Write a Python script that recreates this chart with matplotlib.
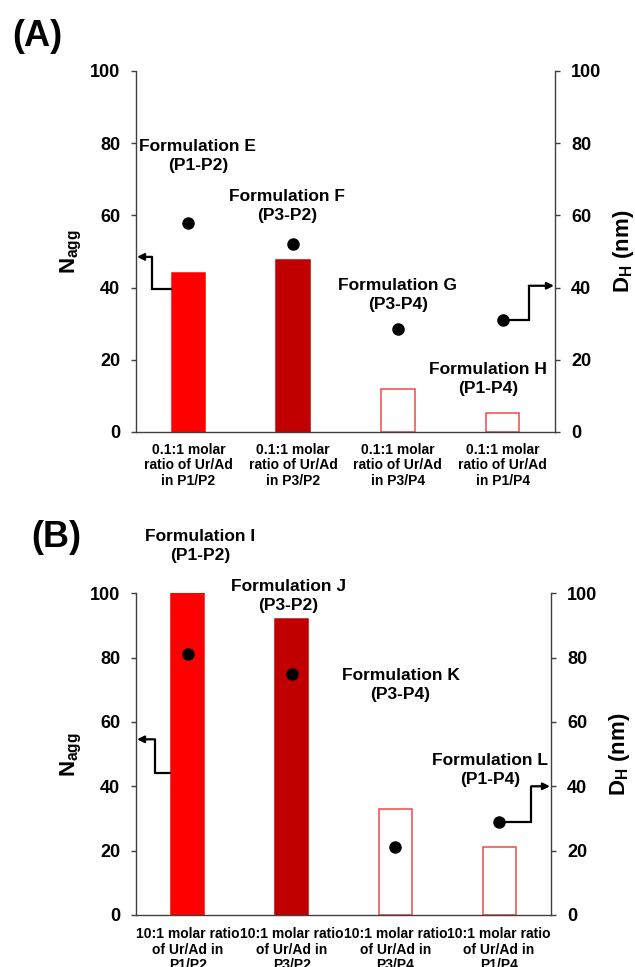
import matplotlib
matplotlib.use("Agg")  # headless backend
import matplotlib.pyplot as plt
import numpy as np

plt.rcParams['font.family'] = ['Liberation Sans', 'DejaVu Sans']
plt.rcParams['font.weight'] = 'bold'
plt.rcParams['axes.labelweight'] = 'bold'
plt.rcParams['mathtext.fontset'] = 'custom'
plt.rcParams['mathtext.rm'] = 'Liberation Sans:bold'
plt.rcParams['mathtext.bf'] = 'Liberation Sans:bold'
plt.rcParams['mathtext.it'] = 'Liberation Sans:bold'

# --- Panel A data ---
cats_a = ["0.1:1 molar\nratio of Ur/Ad\nin P1/P2", "0.1:1 molar\nratio of Ur/Ad\nin P3/P2",
          "0.1:1 molar\nratio of Ur/Ad\nin P3/P4", "0.1:1 molar\nratio of Ur/Ad\nin P1/P4"]
nagg_a = [44, 47.5, 12, 5.2]
dh_a = [58, 52, 28.5, 31]
names_a = ["Formulation E\n(P1-P2)", "Formulation F\n(P3-P2)",
           "Formulation G\n(P3-P4)", "Formulation H\n(P1-P4)"]

# --- Panel B data ---
cats_b = ["10:1 molar ratio\nof Ur/Ad in\nP1/P2", "10:1 molar ratio\nof Ur/Ad in\nP3/P2",
          "10:1 molar ratio\nof Ur/Ad in\nP3/P4", "10:1 molar ratio\nof Ur/Ad in\nP1/P4"]
nagg_b = [100, 92, 33, 21]
dh_b = [81, 75, 21, 29]
names_b = ["Formulation I\n(P1-P2)", "Formulation J\n(P3-P2)",
           "Formulation K\n(P3-P4)", "Formulation L\n(P1-P4)"]

yticks = [0, 20, 40, 60, 80, 100]
bar_faces = ['#FF0000', '#C00000', 'white', 'white']
bar_edges = ['#FF0000', '#C00000', '#F04848', '#F04848']
SPINE = '#404040'


def draw_panel(fig, rect, cats, nagg, dh, names, name_pos, left_arrow, right_arrow, xpad):
    ax = fig.add_axes(rect)
    x = np.arange(len(cats))
    ax.bar(x, nagg, width=0.32, color=bar_faces, edgecolor=bar_edges, linewidth=1.1, zorder=2)
    ax.set_xlim(-0.5, len(cats) - 0.5)
    ax.set_ylim(0, 100)
    ax.set_yticks(yticks)
    ax.set_xticks(x)
    ax.set_xticklabels(cats, fontsize=10, linespacing=1.12)
    ax.tick_params(axis='x', length=0, pad=xpad)
    ax.tick_params(axis='y', direction='out', length=3.5, width=1, color=SPINE,
                   labelsize=13, pad=8)
    ax.set_ylabel(r'N$_{\mathrm{agg}}$', fontsize=16, labelpad=4)
    for s in ['top', 'right']:
        ax.spines[s].set_visible(False)
    for s in ['left', 'bottom']:
        ax.spines[s].set_color(SPINE)
        ax.spines[s].set_linewidth(1)

    ax2 = ax.twinx()
    ax2.set_ylim(0, 100)
    ax2.set_yticks(yticks)
    ax2.tick_params(axis='y', direction='out', length=3.5, width=1, color=SPINE,
                    labelsize=13, pad=8)
    ax2.set_ylabel(r'D$_{\mathrm{H}}$ (nm)', fontsize=16, labelpad=7)
    for s in ['top', 'left', 'bottom']:
        ax2.spines[s].set_visible(False)
    ax2.spines['right'].set_color(SPINE)
    ax2.spines['right'].set_linewidth(1)
    ax2.plot(x, dh, 'o', color='black', markersize=8, zorder=3)

    for txt, (tx, ty) in zip(names, name_pos):
        ax2.text(tx, ty, txt, ha='center', va='center', fontsize=12.5,
                 multialignment='center', linespacing=1.35)

    # step arrows pointing to the matching axis
    for path in (left_arrow, right_arrow):
        xs = [p[0] for p in path]
        ys = [p[1] for p in path]
        ax2.plot(xs[:-1], ys[:-1], color='black', lw=1.6, clip_on=False,
                 solid_capstyle='butt', solid_joinstyle='miter')
        ax2.annotate('', xy=path[-1], xytext=path[-2],
                     arrowprops=dict(arrowstyle='-|>', color='black', lw=1.6,
                                     shrinkA=0, shrinkB=0, mutation_scale=10))
    return ax, ax2


fig = plt.figure(figsize=(6.35, 9.67), dpi=100)

draw_panel(fig, [0.2142, 0.5533, 0.6598, 0.3733], cats_a, nagg_a, dh_a, names_a,
           [(0.09, 76.5), (0.94, 62.6), (2.0, 37.9), (2.86, 14.7)],
           [(-0.16, 39.5), (-0.347, 39.5), (-0.347, 48.5), (-0.49, 48.5)],
           [(3.0, 31), (3.25, 31), (3.25, 40.5), (3.49, 40.5)],
           xpad=8)

draw_panel(fig, [0.2142, 0.0538, 0.6535, 0.3327], cats_b, nagg_b, dh_b, names_b,
           [(0.117, 114.7), (0.97, 99.2), (2.05, 71.5), (2.91, 45.1)],
           [(-0.16, 44), (-0.317, 44), (-0.317, 54.6), (-0.49, 54.6)],
           [(3.0, 29), (3.31, 29), (3.31, 40), (3.49, 40)],
           xpad=9)

fig.text(0.059, 0.962, '(A)', fontsize=26, ha='center', va='center')
fig.text(0.088, 0.444, '(B)', fontsize=26, ha='center', va='center')

fig.savefig('out.png', dpi=100)
